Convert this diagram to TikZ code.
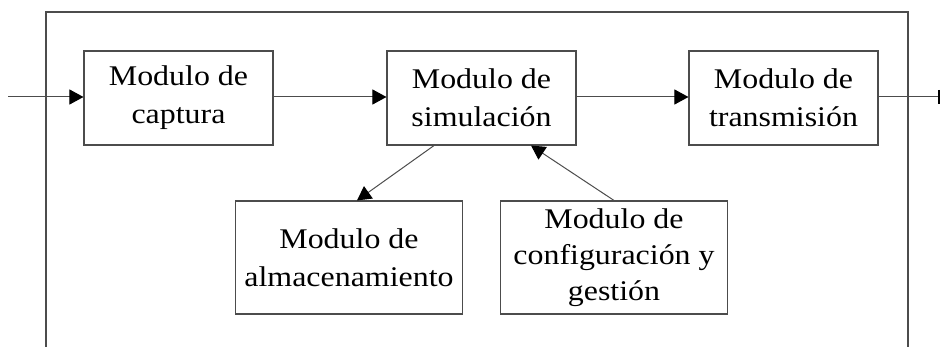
\documentclass[tikz,border=0pt]{standalone}
\usepackage{fontspec}
\setmainfont{Liberation Serif}[FakeStretch=1.12]
\usetikzlibrary{arrows.meta,calc}
\begin{document}
\begin{tikzpicture}[x=1pt,y=-1pt,
  mbox/.style={draw=black!70,line width=1.1pt,inner sep=0pt,align=center,
    font=\fontsize{28.5}{38}\selectfont},
  topbox/.style={mbox,minimum width=189pt,minimum height=94pt},
  botbox/.style={mbox,minimum width=227pt,minimum height=113pt},
  conn/.style={draw=black!70,line width=1pt,-{Triangle[length=14pt,width=15pt,color=black,fill=black]}},
  frame/.style={draw=black!70,line width=1.1pt}]
\useasboundingbox (0,0) rectangle (941,347);
\draw[frame] (46,347) -- (46,12) -- (908,12) -- (908,347);
\node[topbox] (cap) at (178.5,98) {Modulo de\\captura};
\node[topbox] (sim) at (481.5,98) {Modulo de\\simulación};
\node[topbox] (trans) at (783.5,98) {Modulo de\\transmisión};
\node[botbox] (alm) at (349,257.5) {Modulo de\\almacenamiento};
\node[botbox,font=\fontsize{28.5}{36}\selectfont] (conf) at (614,257.5) {Modulo de\\configuración y\\gestión};
\coordinate (in) at (8,97);
\coordinate (out) at (940,97);
\draw[conn] (in) -- (cap.west|-in);
\draw[conn] (cap.east|-in) -- (sim.west|-in);
\draw[conn] (sim.east|-in) -- (trans.west|-in);
\draw[draw=black!70,line width=1pt,-{Bar[width=14pt,line width=2.5pt,color=black]}] (trans.east|-in) -- (out);
\draw[conn] ($(sim.south)+(-47.5,0)$) -- ($(alm.north)+(8,0)$);
\draw[conn] (conf.north) -- ($(sim.south)+(49.5,0)$);
\end{tikzpicture}
\end{document}
